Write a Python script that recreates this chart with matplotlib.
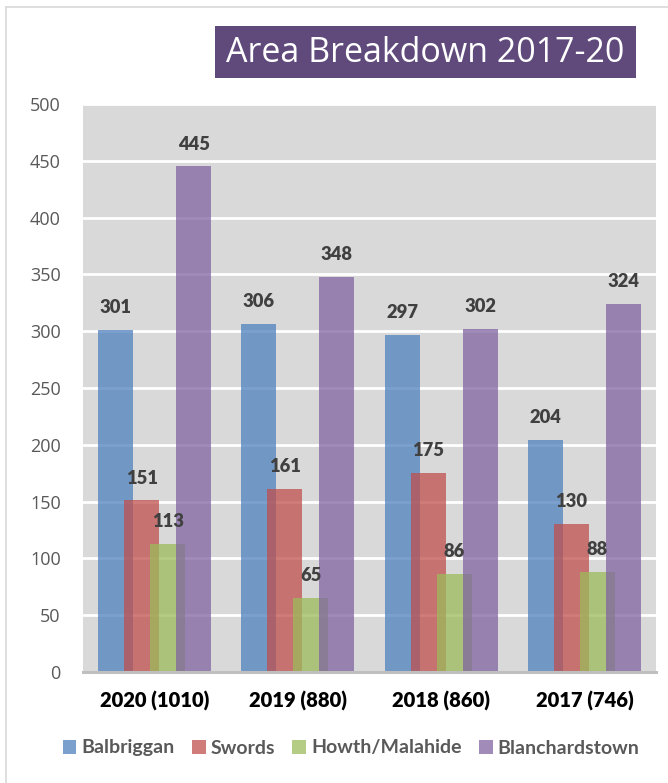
import numpy as np
import matplotlib
matplotlib.use("Agg")
import matplotlib.pyplot as plt
from matplotlib.patches import Rectangle
from matplotlib.lines import Line2D

categories = ["2020 (1010)", "2019 (880)", "2018 (860)", "2017 (746)"]
series_names = ["Balbriggan", "Swords", "Howth/Malahide", "Blanchardstown"]
balbriggan = [301, 306, 297, 204]
swords = [151, 161, 175, 130]
howth = [113, 65, 86, 88]
blanchardstown = [445, 348, 302, 324]
series_values = [balbriggan, swords, howth, blanchardstown]
colors = ["#4F81BD", "#C0504D", "#9BBB59", "#8064A2"]
yticks = [0, 50, 100, 150, 200, 250, 300, 350, 400, 450, 500]

W, H = 668, 783
fig = plt.figure(figsize=(W / 100, H / 100), dpi=100)

def fx(px):
    return px / W

def fy(py):
    return 1 - py / H

left, right, top, bottom = 83, 656, 104, 672
ax = fig.add_axes([fx(left), fy(bottom), fx(right - left), fy(top) - fy(bottom)])
ax.set_facecolor("#D9D9D9")
ax.set_xlim(-0.5, 3.5)
ax.set_ylim(0, 500)

x = np.arange(len(categories))
step = 0.1815
width = 0.244
for i, (vals, col) in enumerate(zip(series_values, colors)):
    pos = x + (i - 1.5) * step
    ax.bar(pos, vals, width=width, color=col, alpha=0.75, zorder=3, label=series_names[i])
    for p, v in zip(pos, vals):
        ax.annotate(str(v), (p, v), xytext=(0, 12.2), textcoords="offset points",
                    ha="center", va="baseline", fontsize=13.2, fontweight="heavy",
                    color="#404040", family="Lato", zorder=5)

ax.set_yticks(yticks)
ax.set_yticklabels([str(t) for t in yticks], fontsize=13, color="#595959", family="Open Sans")
ax.set_xticks(x)
ax.set_xticklabels(categories, fontsize=14.5, fontweight="heavy", color="black", family="Lato")
ax.tick_params(axis="y", length=0, pad=16)
ax.tick_params(axis="x", length=0, pad=14)
ax.grid(axis="y", color="white", linewidth=2, zorder=1)
ax.set_axisbelow(True)
for s in ["top", "right", "left"]:
    ax.spines[s].set_visible(False)
ax.spines["bottom"].set_color("#BFBFBF")
ax.spines["bottom"].set_linewidth(2.2)
ax.spines["bottom"].set_zorder(4)

# title box
fig.patches.append(Rectangle((fx(215), fy(78)), fx(636 - 215), fy(26) - fy(78),
                             transform=fig.transFigure, facecolor="#604A7B",
                             edgecolor="none", zorder=1))
fig.text(fx(425.5), fy(53), "Area Breakdown 2017-20", ha="center", va="center",
         fontsize=24.5, color="white", family="Open Sans", zorder=2)

# outer chart border (left & top)
fig.add_artist(Line2D([fx(6), fx(6)], [fy(7), 0], transform=fig.transFigure,
                      color="#D9D9D9", linewidth=1.2))
fig.add_artist(Line2D([fx(6), 1], [fy(7), fy(7)], transform=fig.transFigure,
                      color="#D9D9D9", linewidth=1.2))

handles = [Rectangle((0, 0), 1, 1, facecolor=c, alpha=0.75) for c in colors]
leg = fig.legend(handles, series_names, loc="center", bbox_to_anchor=(fx(351), fy(748)),
                 ncol=4, frameon=False, handlelength=0.7, handleheight=0.7,
                 handletextpad=0.25, columnspacing=0.9,
                 prop={"family": "Lato", "weight": "bold", "size": 14})
for t in leg.get_texts():
    t.set_color("#595959")

fig.savefig("out.png", dpi=100)
